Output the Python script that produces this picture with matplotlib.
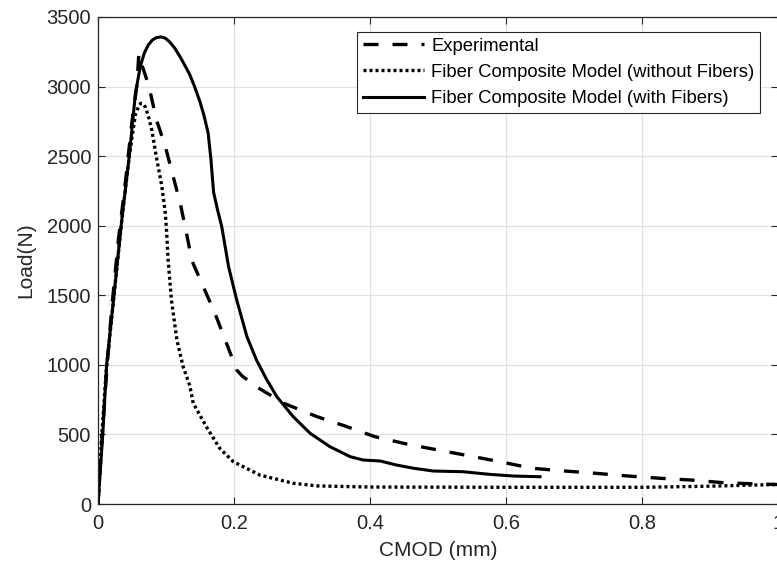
import matplotlib
matplotlib.use("Agg")
import matplotlib.pyplot as plt

plt.rcParams['font.family'] = ['Liberation Sans', 'DejaVu Sans']

# Experimental curve
exp_x = [0, 0.005, 0.012, 0.02, 0.03, 0.04, 0.05, 0.057, 0.060, 0.062, 0.065, 0.075, 0.086,
         0.099, 0.108, 0.121, 0.130, 0.138, 0.155, 0.172, 0.189, 0.204, 0.212, 0.233,
         0.273, 0.322, 0.363, 0.407, 0.454, 0.500, 0.547, 0.591, 0.638, 0.684, 0.731,
         0.780, 0.826, 0.873, 0.920, 0.969, 1.0]
exp_y = [0, 400, 900, 1400, 1900, 2300, 2750, 3000, 3230, 3230, 3150, 3000, 2760,
         2570, 2400, 2160, 1950, 1750, 1560, 1370, 1155, 963, 920, 843,
         724, 628, 561, 484, 431, 388, 345, 304, 257, 238, 221,
         201, 185, 172, 153, 144, 140]

# Fiber composite model without fibers
nof_x = [0, 0.005, 0.012, 0.0235, 0.035, 0.046, 0.055, 0.060, 0.063, 0.066, 0.070, 0.075,
         0.079, 0.086, 0.094, 0.099, 0.101, 0.103, 0.108, 0.116, 0.125, 0.135, 0.140,
         0.160, 0.179, 0.199, 0.238, 0.287, 0.322, 0.4, 0.6, 0.8, 0.9, 0.97, 1.0]
nof_y = [0, 450, 950, 1500, 2042, 2500, 2800, 2860, 2880, 2876, 2850, 2770,
         2690, 2490, 2280, 2090, 1950, 1760, 1466, 1180, 990, 850, 724,
         550, 400, 304, 208, 149, 130, 122, 120, 120, 128, 137, 140]

# Fiber composite model with fibers
wf_x = [0, 0.007, 0.0127, 0.0235, 0.035, 0.046, 0.055, 0.062, 0.068, 0.074, 0.080, 0.086,
        0.093, 0.099, 0.106, 0.113, 0.120, 0.128, 0.135, 0.142, 0.150, 0.156, 0.162,
        0.166, 0.170, 0.176, 0.182, 0.192, 0.204, 0.219, 0.233, 0.248, 0.263, 0.287,
        0.312, 0.341, 0.351, 0.371, 0.390, 0.415, 0.439, 0.464, 0.493, 0.537, 0.576,
        0.611, 0.650]
wf_y = [0, 500, 1000, 1500, 2042, 2500, 2950, 3140, 3240, 3300, 3335, 3352,
        3357, 3348, 3318, 3275, 3220, 3150, 3085, 3000, 2890, 2790, 2665,
        2480, 2240, 2110, 1993, 1706, 1466, 1203, 1035, 895, 771, 628,
        508, 412, 388, 340, 316, 309, 280, 257, 237, 232, 213,
        201, 196]

fig = plt.figure(figsize=(7.77, 5.65), dpi=100)
ax = fig.add_axes([98 / 777, 61 / 565, 680 / 777, 487 / 565])

ax.plot(exp_x, exp_y, color='black', lw=2.4, dashes=(4.5, 4.2), label='Experimental')
ax.plot(nof_x, nof_y, color='black', lw=2.4, linestyle=(0, (0.9, 0.9)),
        label='Fiber Composite Model (without Fibers)')
ax.plot(wf_x, wf_y, color='black', lw=2.2, label='Fiber Composite Model (with Fibers)')

ax.set_xlim(0, 1)
ax.set_ylim(0, 3500)
ax.set_xticks([0, 0.2, 0.4, 0.6, 0.8, 1])
ax.set_xticklabels(['0', '0.2', '0.4', '0.6', '0.8', '1'])
ax.set_yticks(range(0, 3501, 500))

ax.grid(True, color='#e0e0e0', lw=0.9)
ax.set_axisbelow(True)
ax.tick_params(direction='in', top=True, right=True, length=5, width=0.8,
               colors='#262626', labelsize=14.5)
ax.tick_params(axis='x', pad=7)
ax.tick_params(axis='y', pad=5)
for s in ax.spines.values():
    s.set_color('#262626')
    s.set_linewidth(0.9)

ax.set_xlabel('CMOD (mm)', fontsize=15, color='#262626', labelpad=6)
ax.set_ylabel('Load(N)', fontsize=15, color='#262626', labelpad=8)

leg = ax.legend(loc='upper right', bbox_to_anchor=(760 / 777, 1 - 32 / 565),
                bbox_transform=fig.transFigure, fontsize=13.3, handlelength=3.3,
                handletextpad=0.4, labelspacing=0.5, borderpad=0.3,
                fancybox=False, framealpha=1, edgecolor='#262626', borderaxespad=0)
leg.get_frame().set_linewidth(0.8)

fig.savefig('out.png', dpi=100)
